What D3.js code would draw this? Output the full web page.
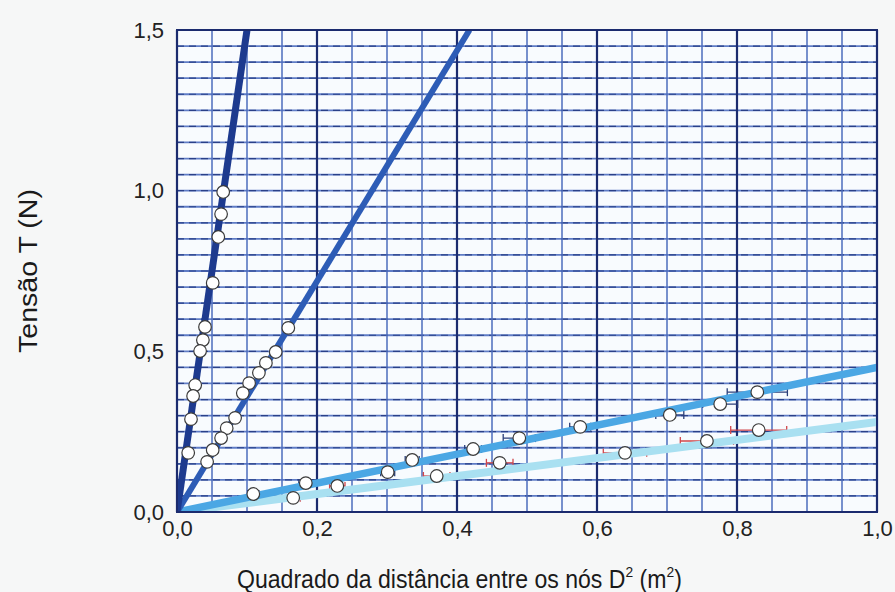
<!DOCTYPE html>
<html>
<head>
<meta charset="utf-8">
<script src="https://cdn.jsdelivr.net/npm/d3@7"></script>
<style>
  html, body { margin: 0; padding: 0; background: #f6f7f7; }
  svg { display: block; font-family: "Liberation Sans", Arial, sans-serif; }
</style>
</head>
<body>
<svg id="chart" width="895" height="592"></svg>
<script>
// Tension T (N) against squared node distance D^2 (m^2), four string series
const xTicks = [0, 0.2, 0.4, 0.6, 0.8, 1.0];
const yTicks = [0, 0.5, 1.0, 1.5];
const xTickLabels = ["0,0", "0,2", "0,4", "0,6", "0,8", "1,0"];
const yTickLabels = ["0,0", "0,5", "1,0", "1,5"];

// fitted slopes (N per m^2) of each string's line through the origin
const slopes = [15.0, 3.59, 0.45, 0.28];
const lineColors = ["#1d3a8e", "#2d5cb6", "#4ba7e4", "#a9e0f1"];

// measured points: [D^2, T]
const series1 = [[0.066, 0.996], [0.063, 0.927], [0.059, 0.856], [0.051, 0.713], [0.040, 0.576],
  [0.037, 0.535], [0.033, 0.501], [0.026, 0.395], [0.023, 0.361], [0.020, 0.289], [0.016, 0.184]];
const series2 = [[0.159, 0.573], [0.141, 0.498], [0.127, 0.464], [0.117, 0.433], [0.103, 0.401],
  [0.094, 0.370], [0.083, 0.293], [0.071, 0.261], [0.063, 0.230], [0.051, 0.193], [0.043, 0.156]];
const series3 = [[0.109, 0.056], [0.184, 0.090], [0.301, 0.124], [0.336, 0.162], [0.423, 0.196],
  [0.489, 0.230], [0.576, 0.265], [0.704, 0.302], [0.776, 0.336], [0.829, 0.373]];
const series4 = [[0.166, 0.044], [0.229, 0.081], [0.371, 0.112], [0.461, 0.153], [0.640, 0.184],
  [0.757, 0.221], [0.831, 0.255]];

// horizontal uncertainty in D^2 for the two shallow series
const series3Err = [0.008, 0.01, 0.01, 0.01, 0.012, 0.023, 0.015, 0.02, 0.025, 0.043];
const series4Err = [0.01, 0.011, 0.019, 0.019, 0.031, 0.038, 0.04];

const svg = d3.select("#chart");
const margin = { left: 177, right: 18, top: 30, bottom: 80 };
const W = 895, H = 592;

const x = d3.scaleLinear().domain([0, 1.0]).range([margin.left, W - margin.right]);
const y = d3.scaleLinear().domain([0, 1.5]).range([H - margin.bottom, margin.top]);

// plot background
svg.append("rect")
  .attr("x", x(0)).attr("y", y(1.5))
  .attr("width", x(1) - x(0)).attr("height", y(0) - y(1.5))
  .attr("fill", "#f8fbfe");

// graph-paper grid
const grid = svg.append("g");
const hSteps = d3.range(0, 31).map(i => i * 0.05);
grid.selectAll("line.hbase").data(hSteps).join("line")
  .attr("x1", x(0)).attr("x2", x(1))
  .attr("y1", d => y(d)).attr("y2", d => y(d))
  .attr("stroke", "#5f7cc6").attr("stroke-width", 1.8);
grid.selectAll("line.hdash").data(hSteps).join("line")
  .attr("x1", x(0)).attr("x2", x(1))
  .attr("y1", d => y(d)).attr("y2", d => y(d))
  .attr("stroke", "#2a4088").attr("stroke-width", 1.2)
  .attr("stroke-dasharray", "7,5");
const vSteps = d3.range(0, 21).map(i => i * 0.05);
grid.selectAll("line.v").data(vSteps).join("line")
  .attr("y1", y(0)).attr("y2", y(1.5))
  .attr("x1", d => x(d)).attr("x2", d => x(d))
  .attr("stroke", (d, i) => (i % 4 === 0) ? "#1b2b6e" : "#4d6cbc")
  .attr("stroke-width", (d, i) => (i % 4 === 0) ? 2.2 : 1.5);

// error bars (drawn under the fitted lines)
function errorBars(data, errs, color) {
  const g = svg.append("g").attr("stroke", color).attr("stroke-width", 1.3).attr("fill", "none");
  data.forEach((d, i) => {
    const e = errs[i];
    const cy = y(d[1]);
    g.append("line").attr("x1", x(d[0] - e)).attr("x2", x(d[0] + e)).attr("y1", cy).attr("y2", cy);
    g.append("line").attr("x1", x(d[0] - e)).attr("x2", x(d[0] - e)).attr("y1", cy - 4).attr("y2", cy + 4);
    g.append("line").attr("x1", x(d[0] + e)).attr("x2", x(d[0] + e)).attr("y1", cy - 4).attr("y2", cy + 4);
  });
}
errorBars(series3, series3Err, "#2b3f7a");
errorBars(series4, series4Err, "#d0464a");

// fitted lines, clipped to the plot frame
svg.append("clipPath").attr("id", "plotClip")
  .append("rect")
  .attr("x", x(0)).attr("y", y(1.5))
  .attr("width", x(1) - x(0)).attr("height", y(0) - y(1.5));

const lineGen = d3.line().x(d => x(d[0])).y(d => y(d[1]));
const lines = svg.append("g").attr("clip-path", "url(#plotClip)");
const lineWidths = [7, 6, 7.5, 8];
// shallow lines first so the steep ones sit on top
[3, 2, 1, 0].forEach(i => {
  const xEnd = Math.min(1.0, 1.5 / slopes[i]);
  lines.append("path")
    .datum([[0, 0], [xEnd, slopes[i] * xEnd]])
    .attr("d", lineGen)
    .attr("fill", "none")
    .attr("stroke", lineColors[i])
    .attr("stroke-width", lineWidths[i])
    .attr("stroke-linecap", "butt");
});

// data points
const pts = svg.append("g");
[series1, series2, series3, series4].forEach(s => {
  pts.selectAll(null).data(s).join("circle")
    .attr("cx", d => x(d[0])).attr("cy", d => y(d[1]))
    .attr("r", 6.3)
    .attr("fill", "#ffffff")
    .attr("stroke", "#3a3a3a")
    .attr("stroke-width", 1.2);
});

// frame
svg.append("rect")
  .attr("x", x(0)).attr("y", y(1.5))
  .attr("width", x(1) - x(0)).attr("height", y(0) - y(1.5))
  .attr("fill", "none").attr("stroke", "#1b2b6e").attr("stroke-width", 2);

// axes
const xAxis = d3.axisBottom(x).tickValues(xTicks)
  .tickFormat((d, i) => xTickLabels[i]).tickSize(0).tickPadding(8);
const yAxis = d3.axisLeft(y).tickValues(yTicks)
  .tickFormat((d, i) => yTickLabels[i]).tickSize(0).tickPadding(13);

const gx = svg.append("g").attr("transform", `translate(0,${y(0)})`).call(xAxis);
const gy = svg.append("g").attr("transform", `translate(${x(0)},0)`).call(yAxis);
[gx, gy].forEach(g => {
  g.select(".domain").remove();
  g.selectAll("text").attr("font-size", 22).attr("fill", "#222")
    .attr("font-family", "'Liberation Sans', Arial, sans-serif");
});

// x-axis title, one text with raised exponents, fitted to its width by a scale
const xTitleG = svg.append("g");
const xTitle = xTitleG.append("text")
  .attr("x", 0).attr("y", 0)
  .attr("font-size", 25).attr("fill", "#1a1a1a");
xTitle.append("tspan").text("Quadrado da distância entre os nós D");
xTitle.append("tspan").attr("dy", -11).attr("font-size", 15).text("2");
xTitle.append("tspan").attr("dy", 11).text(" (m");
xTitle.append("tspan").attr("dy", -11).attr("font-size", 15).text("2");
xTitle.append("tspan").attr("dy", 11).text(")");
const xTitleW = xTitle.node().getComputedTextLength();
xTitleG.attr("transform", `translate(237,588) scale(${445 / xTitleW},1)`);

// y-axis title
const yTitleG = svg.append("g");
const yTitle = yTitleG.append("text")
  .attr("text-anchor", "middle")
  .attr("font-size", 25).attr("fill", "#1a1a1a")
  .text("Tensão T (N)");
const yTitleW = yTitle.node().getComputedTextLength();
yTitleG.attr("transform", `translate(37,271) rotate(-90) scale(${164 / yTitleW},1)`);
</script>
</body>
</html>
